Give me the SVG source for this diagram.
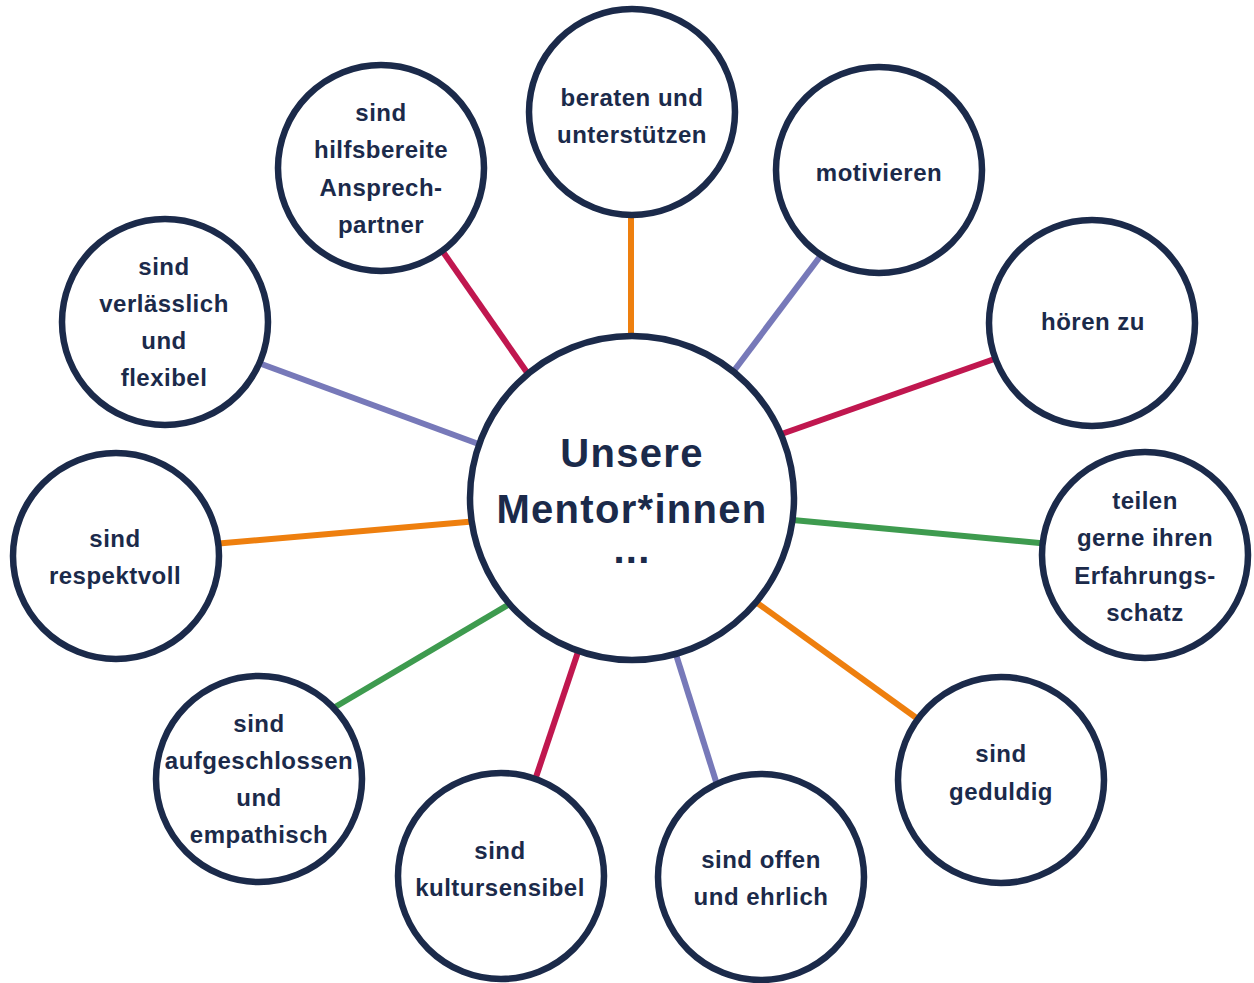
<svg xmlns="http://www.w3.org/2000/svg" width="1254" height="983" viewBox="0 0 1254 983">
<style>
.n{fill:#ffffff;stroke:#1b2a4a;stroke-width:6.5}
.t{font-family:"Liberation Sans",Arial,sans-serif;font-weight:700;font-size:24px;fill:#1b2a4a;text-anchor:middle;letter-spacing:0.5px}
.c{font-size:40px;letter-spacing:1.3px}
.l{stroke-width:6;stroke-linecap:butt;fill:none}
.or{stroke:#ee7f0e}.pu{stroke:#7779b9}.cr{stroke:#c0174f}.gr{stroke:#3e9b4f}
</style>
<rect width="1254" height="983" fill="#ffffff"/>
<g id="connectors">
<line class="l or" x1="631" y1="205" x2="631" y2="345"/>
<line class="l pu" x1="825" y1="250" x2="727" y2="380"/>
<line class="l cr" x1="1000" y1="357" x2="773" y2="437"/>
<line class="l gr" x1="1050" y1="544" x2="782" y2="519"/>
<line class="l or" x1="922" y1="722" x2="749" y2="597"/>
<line class="l pu" x1="719" y1="791" x2="673" y2="645"/>
<line class="l cr" x1="534" y1="783" x2="580" y2="646"/>
<line class="l gr" x1="330" y1="710" x2="513" y2="602"/>
<line class="l or" x1="213" y1="544" x2="478" y2="521"/>
<line class="l pu" x1="256" y1="362" x2="484" y2="446"/>
<line class="l cr" x1="441" y1="249" x2="533" y2="381"/>
</g>
<g id="center">
<circle class="n" cx="632" cy="498" r="162"/>
<text class="t c" x="632" y="467">Unsere</text>
<text class="t c" x="632" y="523">Mentor*innen</text>
<text class="t c" x="632" y="563">...</text>
</g>
<g id="n-beraten">
<circle class="n" cx="632" cy="112" r="103"/>
<text class="t" x="632" y="106">beraten und</text>
<text class="t" x="632" y="143">unterstützen</text>
</g>
<g id="n-motivieren">
<circle class="n" cx="879" cy="170" r="103"/>
<text class="t" x="879" y="181">motivieren</text>
</g>
<g id="n-hoeren">
<circle class="n" cx="1092" cy="323" r="103"/>
<text class="t" x="1093" y="330">hören zu</text>
</g>
<g id="n-teilen">
<circle class="n" cx="1145" cy="555" r="103"/>
<text class="t" x="1145" y="509">teilen</text>
<text class="t" x="1145" y="546">gerne ihren</text>
<text class="t" x="1145" y="584">Erfahrungs-</text>
<text class="t" x="1145" y="621">schatz</text>
</g>
<g id="n-geduldig">
<circle class="n" cx="1001" cy="780" r="103"/>
<text class="t" x="1001" y="762">sind</text>
<text class="t" x="1001" y="800">geduldig</text>
</g>
<g id="n-offen">
<circle class="n" cx="761" cy="877" r="103"/>
<text class="t" x="761" y="868">sind offen</text>
<text class="t" x="761" y="905">und ehrlich</text>
</g>
<g id="n-kultur">
<circle class="n" cx="501" cy="876" r="103"/>
<text class="t" x="500" y="859">sind</text>
<text class="t" x="500" y="896">kultursensibel</text>
</g>
<g id="n-aufgeschlossen">
<circle class="n" cx="259" cy="779" r="103"/>
<text class="t" x="259" y="732">sind</text>
<text class="t" x="259" y="769">aufgeschlossen</text>
<text class="t" x="259" y="806">und</text>
<text class="t" x="259" y="843">empathisch</text>
</g>
<g id="n-respektvoll">
<circle class="n" cx="116" cy="556" r="103"/>
<text class="t" x="115" y="547">sind</text>
<text class="t" x="115" y="584">respektvoll</text>
</g>
<g id="n-verlaesslich">
<circle class="n" cx="165" cy="322" r="103"/>
<text class="t" x="164" y="275">sind</text>
<text class="t" x="164" y="312">verlässlich</text>
<text class="t" x="164" y="349">und</text>
<text class="t" x="164" y="386">flexibel</text>
</g>
<g id="n-hilfsbereit">
<circle class="n" cx="381" cy="168" r="103"/>
<text class="t" x="381" y="121">sind</text>
<text class="t" x="381" y="158">hilfsbereite</text>
<text class="t" x="381" y="196">Ansprech-</text>
<text class="t" x="381" y="233">partner</text>
</g>
</svg>
